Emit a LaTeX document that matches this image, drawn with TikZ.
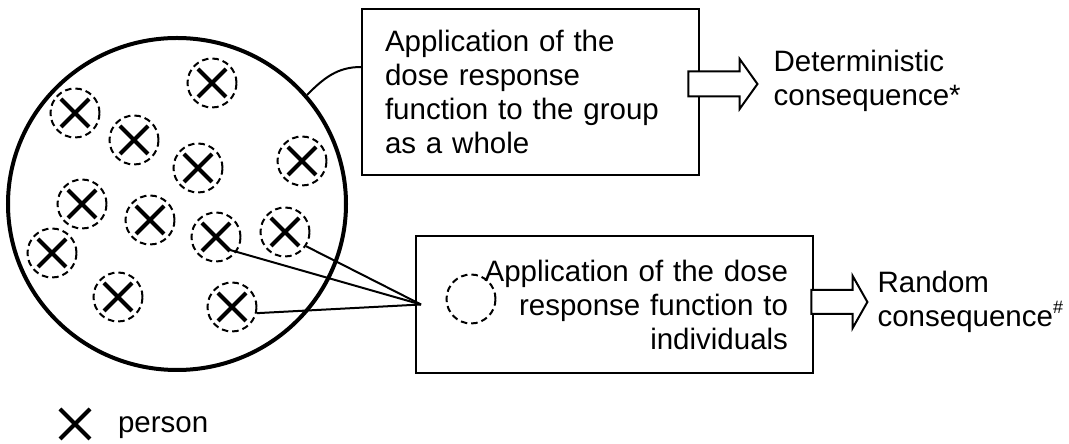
\documentclass[tikz,border=0pt]{standalone}
\usepackage{fontspec}
\setmainfont{Liberation Sans}
\usetikzlibrary{positioning,shapes.arrows,shapes.geometric}

\begin{document}
\begin{tikzpicture}[
    x = 1pt, y = 1pt, % one unit per pixel
    line width = 2pt, % line style
    font = \fontsize{29.5}{34}\selectfont
    ]

    \tikzset{
    person/.style = {
        circle, draw, dash pattern = on 6.5pt off 4pt,
        minimum size = 49pt, inner sep = 0pt,
        path picture = {\draw[solid, line width = 4pt]
            (path picture bounding box.center) +(-14,-14) -- +(14,14)
            +(-14,14) -- +(14,-14);}
        },
    textbox/.style = {draw, inner ysep = 0pt},
    fatarrow/.style = {single arrow, draw, fill = white, inner xsep = 0pt,
        text height = 0pt, text depth = 0pt}
    }
    \useasboundingbox (0,0) rectangle (1069,444);

    % the exposed group
    \node[ellipse, draw, line width = 4pt, minimum width = 338pt, minimum height = 332pt]
        (group) at (177,240) {};
    \node[person] (p1) at (212,361) {};
    \node[person] (p2) at (75,331) {};
    \node[person] (p3) at (134,304) {};
    \node[person] (p4) at (198,276) {};
    \node[person] (p5) at (302,283) {};
    \node[person] (p6) at (82,240) {};
    \node[person] (p7) at (150,224) {};
    \node[person] (p8) at (216,207) {};
    \node[person] (p9) at (285,212) {};
    \node[person] (p10) at (52,191) {};
    \node[person] (p11) at (118,147) {};
    \node[person] (p12) at (232,137) {};

    % the two ways of applying the function
    \node[textbox, text width = 291pt, inner xsep = 23pt, minimum height = 166pt,
        align = left] (wholebox) at (530.5,352)
        {Application of the\\dose response\\function to the group\\as a whole};
    \node[textbox, text width = 347pt, inner xsep = 25pt, minimum height = 137pt,
        align = right] (indivbox) at (614.5,139.5)
        {Application of the dose\\response function to\\individuals};
    \node[person, path picture = {}] (single) at (471,145) {};

    \node[fatarrow, inner ysep = 11.5pt, minimum height = 69pt,
        single arrow head extend = 12.5pt, single arrow tip angle = 109] (detarrow) at (718.5,360) {};
    \node[fatarrow, inner ysep = 11pt, minimum height = 56pt,
        single arrow head extend = 14pt, single arrow tip angle = 121] (randarrow) at (836,142) {};

    \node[inner sep = 0pt, align = left, right = 14pt of detarrow.tip, yshift = 3pt]
        (detlabel) {Deterministic\\consequence*};
    \node[inner sep = 0pt, align = left, right = 8pt of randarrow.tip]
        (randlabel) {Random\\consequence\raisebox{13pt}{\fontsize{18}{18}\selectfont\#}};

    % connectors
    \draw (group.40) to[out = 45, in = 180] ([yshift = 25pt]wholebox.west);
    \coordinate (hub) at ([xshift = 6pt]indivbox.west);
    \draw ([shift = {(14,-13)}]p8.center) -- (hub);
    \draw (p9.-34) -- (hub);
    \draw (p12.-14) -- (hub);

    % key
    \node[circle, minimum size = 49pt, inner sep = 0pt, path picture = {\draw[line width = 4pt]
        (path picture bounding box.center) +(-15,-15) -- +(15,15) +(-15,15) -- +(15,-15);}]
        (key) at (75,20) {};
    \node[anchor = base west, inner sep = 0pt] (keylabel) at (117,11) {person};
\end{tikzpicture}
\end{document}
